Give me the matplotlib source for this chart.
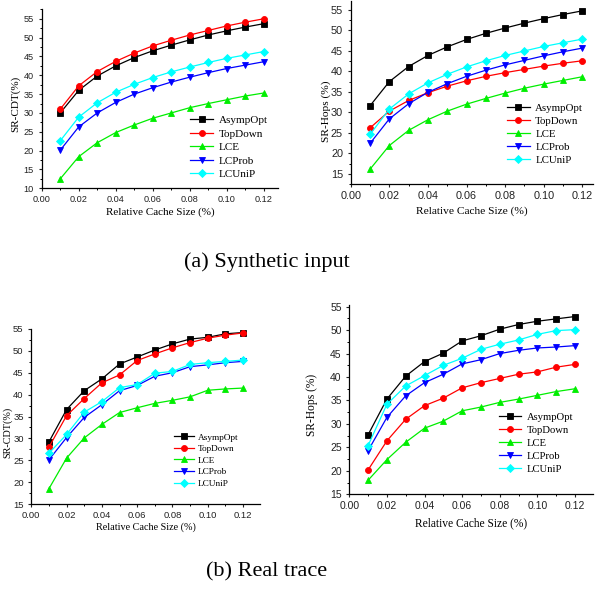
import matplotlib
matplotlib.use("Agg")
import matplotlib.pyplot as plt
from matplotlib.ticker import MultipleLocator

# ---------------- data ----------------
cache_size = [0.01, 0.02, 0.03, 0.04, 0.05, 0.06, 0.07, 0.08, 0.09, 0.10, 0.11, 0.12]
series_names = ["AsympOpt", "TopDown", "LCE", "LCProb", "LCUniP"]

# (a) Synthetic input, SR-CDT
syn_cdt_asymp = [30.0, 36.0, 39.8, 42.5, 44.7, 46.5, 48.0, 49.4, 50.7, 51.8, 52.8, 53.7]
syn_cdt_top = [31.0, 37.2, 41.0, 43.7, 45.9, 47.8, 49.3, 50.7, 51.9, 53.1, 54.1, 55.0]
syn_cdt_lce = [12.5, 18.4, 22.1, 24.8, 26.8, 28.6, 30.0, 31.4, 32.5, 33.5, 34.5, 35.3]
syn_cdt_prob = [20.1, 26.3, 30.0, 32.8, 35.0, 36.7, 38.2, 39.5, 40.7, 41.8, 42.7, 43.6]
syn_cdt_unip = [22.6, 28.9, 32.7, 35.5, 37.6, 39.4, 40.9, 42.2, 43.4, 44.5, 45.4, 46.3]

# (a) Synthetic input, SR-Hops
syn_hops_asymp = [31.6, 37.5, 41.2, 43.9, 46.0, 47.8, 49.3, 50.6, 51.8, 52.9, 53.9, 54.8]
syn_hops_top = [26.2, 30.3, 32.9, 34.8, 36.4, 37.7, 38.8, 39.7, 40.5, 41.3, 42.0, 42.6]
syn_hops_lce = [16.1, 21.9, 25.6, 28.2, 30.3, 32.0, 33.4, 34.7, 35.9, 36.9, 37.8, 38.7]
syn_hops_prob = [22.4, 28.4, 32.1, 34.9, 37.0, 38.8, 40.3, 41.6, 42.7, 43.8, 44.8, 45.7]
syn_hops_unip = [24.6, 30.8, 34.5, 37.2, 39.3, 41.1, 42.6, 43.9, 45.0, 46.1, 47.0, 47.9]

# (b) Real trace, SR-CDT
real_cdt_asymp = [29.2, 36.6, 40.9, 43.6, 47.0, 48.6, 50.2, 51.6, 52.7, 53.1, 53.9, 54.2]
real_cdt_top = [28.0, 35.2, 39.1, 42.7, 44.5, 47.8, 49.3, 50.7, 51.9, 52.9, 53.6, 54.1]
real_cdt_lce = [18.5, 25.5, 30.1, 33.2, 35.9, 37.0, 38.0, 38.7, 39.5, 41.0, 41.3, 41.5]
real_cdt_prob = [25.1, 30.2, 34.8, 37.7, 40.9, 42.1, 44.2, 45.0, 46.4, 46.8, 47.3, 47.6]
real_cdt_unip = [26.6, 30.9, 36.0, 38.4, 41.6, 42.3, 44.9, 45.3, 46.9, 47.3, 47.6, 47.9]

# (b) Real trace, SR-Hops
real_hops_asymp = [27.7, 35.3, 40.2, 43.3, 45.1, 47.7, 48.8, 50.2, 51.2, 51.9, 52.4, 52.9]
real_hops_top = [20.2, 26.4, 31.0, 33.9, 35.5, 37.7, 38.8, 39.7, 40.6, 41.1, 42.1, 42.7]
real_hops_lce = [18.0, 22.4, 26.1, 29.1, 30.6, 32.8, 33.6, 34.6, 35.3, 36.1, 36.9, 37.5]
real_hops_prob = [24.3, 31.4, 36.0, 38.8, 40.6, 42.8, 43.7, 45.0, 45.7, 46.2, 46.4, 46.7]
real_hops_unip = [25.4, 34.2, 38.1, 40.3, 42.5, 44.0, 45.9, 47.0, 47.9, 49.1, 49.9, 50.1]

y_labels = ["SR-CDT(%)", "SR-Hops (%)", "SR-CDT(%)", "SR-Hops (%)"]
x_label = "Relative Cache Size (%)"
captions = ["(a) Synthetic input", "(b) Real trace"]

panels_data = [
    [syn_cdt_asymp, syn_cdt_top, syn_cdt_lce, syn_cdt_prob, syn_cdt_unip],
    [syn_hops_asymp, syn_hops_top, syn_hops_lce, syn_hops_prob, syn_hops_unip],
    [real_cdt_asymp, real_cdt_top, real_cdt_lce, real_cdt_prob, real_cdt_unip],
    [real_hops_asymp, real_hops_top, real_hops_lce, real_hops_prob, real_hops_unip],
]

# ---------------- style ----------------
colors = ["#000000", "#ff0000", "#00ee00", "#0000ff", "#00ffff"]
markers = ["s", "o", "^", "v", "D"]
msizes = [3.9, 4.3, 4.5, 4.5, 3.9]

W, H = 598, 595
fig = plt.figure(figsize=(W / 100, H / 100), dpi=100)

def px_rect(left, top, right, bottom):
    return [left / W, 1 - bottom / H, (right - left) / W, (bottom - top) / H]

layouts = [
    dict(rect=(41.7, 9, 278, 188.3), xmax=0.1277, ylim=(10, 57.6), tfs=6.6, lfs=8.0, gfs=8.0,
         ylc=(-0.092, 0.47), xly=-0.104, leg=(190, 115.5)),
    dict(rect=(350.7, 1, 593, 184), xmax=0.1255, ylim=(12.5, 57.2), tfs=7.8, lfs=8.2, gfs=7.8,
         ylc=(-0.083, 0.40), xly=-0.12, leg=(507, 103)),
    dict(rect=(31.3, 329, 260, 504), xmax=0.1296, ylim=(15, 55), tfs=6.8, lfs=7.3, gfs=6.7,
         ylc=(-0.084, 0.41), xly=-0.103, leg=(174, 433)),
    dict(rect=(349.3, 305, 593, 494.3), xmax=0.1296, ylim=(15, 55.36), tfs=7.5, lfs=8.3, gfs=7.7,
         ylc=(-0.13, 0.47), xly=-0.12, leg=(499, 412.5)),
]

for i, (lay, data) in enumerate(zip(layouts, panels_data)):
    ax = fig.add_axes(px_rect(*lay["rect"]))
    for name, ys, c, m, ms in zip(series_names, data, colors, markers, msizes):
        ax.plot(cache_size, ys, color=c, marker=m, markersize=ms, linewidth=0.9,
                markeredgewidth=0.6, label=name, clip_on=False)
    ax.set_xlim(0, lay["xmax"])
    ax.set_ylim(*lay["ylim"])
    ax.xaxis.set_major_locator(MultipleLocator(0.02))
    ax.xaxis.set_minor_locator(MultipleLocator(0.01))
    ax.yaxis.set_major_locator(MultipleLocator(5))
    ax.yaxis.set_minor_locator(MultipleLocator(2.5))
    ax.xaxis.set_major_formatter(plt.FormatStrFormatter("%.2f"))
    for s in ["top", "right"]:
        ax.spines[s].set_visible(False)
    for s in ["left", "bottom"]:
        ax.spines[s].set_linewidth(0.9)
    ax.tick_params(which="major", direction="out", length=2.5, width=0.8,
                   labelsize=lay["tfs"], colors="#222222")
    ax.tick_params(axis="x", which="major", pad=2.5)
    ax.tick_params(axis="y", which="major", pad=3.0)
    ax.tick_params(which="minor", direction="out", length=1.5, width=0.7)
    for lbl in ax.get_xticklabels() + ax.get_yticklabels():
        lbl.set_fontfamily("Liberation Sans")
    ax.set_xlabel(x_label, fontfamily="Liberation Serif", fontsize=lay["lfs"])
    ax.set_ylabel(y_labels[i], fontfamily="Liberation Serif", fontsize=lay["lfs"])
    ax.yaxis.set_label_coords(*lay["ylc"])
    ax.xaxis.set_label_coords(0.5, lay["xly"])
    lx, ly = lay["leg"]
    ax.legend(loc="upper left", bbox_to_anchor=(lx / W, 1 - ly / H), bbox_transform=fig.transFigure,
              frameon=False, borderpad=0, borderaxespad=0, handlelength=2.1, handletextpad=0.5,
              labelspacing=0.33, prop={"family": "Liberation Serif", "size": lay["gfs"]})

fig.text(267 / W, 1 - 262 / H, captions[0], ha="center", va="center",
         fontfamily="Liberation Serif", fontsize=16)
fig.text(267 / W, 1 - 572 / H, captions[1], ha="center", va="center",
         fontfamily="Liberation Serif", fontsize=16)

fig.savefig("out.png", dpi=100)
